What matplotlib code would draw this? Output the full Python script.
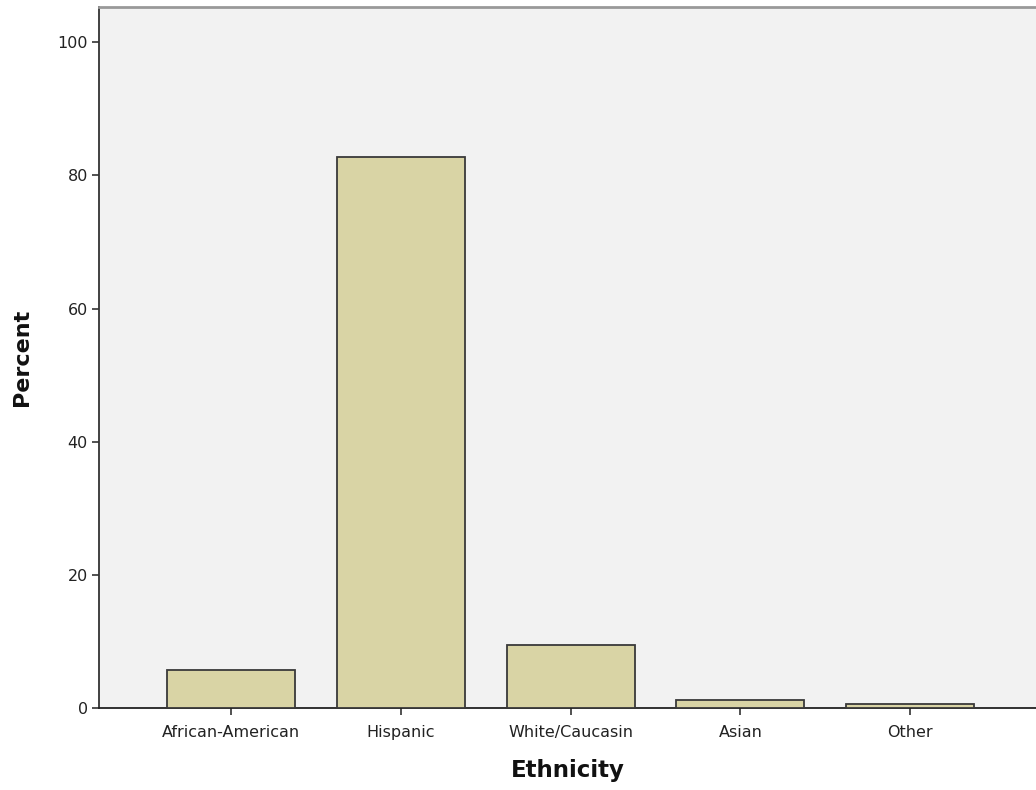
import matplotlib
matplotlib.use("Agg")
import matplotlib.pyplot as plt
import numpy as np

categories = ["African-American", "Hispanic", "White/Caucasin", "Asian", "Other"]
percent = [5.7, 82.7, 9.5, 1.2, 0.6]
y_ticks = [0, 20, 40, 60, 80, 100]


def make():
    fig = plt.figure(figsize=(10.36, 7.9), dpi=100)
    ax = fig.add_axes([0.0956, 0.1038, 0.9044, 0.8874])
    ax.set_facecolor("#f2f2f2")

    x = np.arange(len(categories))
    ax.bar(x, percent, width=0.753, color="#d9d4a5", edgecolor="#3a3a3a",
           linewidth=1.3, zorder=3)

    ax.set_xlim(-0.776, 4.74)
    ax.set_ylim(0, 105.3)
    ax.set_xticks(x)
    ax.set_xticklabels(categories, fontsize=11.5, color="#222222")
    ax.set_yticks(y_ticks)
    ax.set_yticklabels([str(t) for t in y_ticks], fontsize=11.5, color="#222222")
    ax.tick_params(direction="out", length=5, width=1.2, color="#333333")
    ax.tick_params(axis="x", pad=7)
    ax.tick_params(axis="y", pad=3)

    ax.spines["left"].set_color("#333333")
    ax.spines["left"].set_linewidth(1.3)
    ax.spines["bottom"].set_color("#222222")
    ax.spines["bottom"].set_linewidth(1.3)
    ax.spines["top"].set_color("#999999")
    ax.spines["top"].set_linewidth(2)
    ax.spines["right"].set_visible(False)

    ax.set_xlabel("Ethnicity", fontsize=16.5, fontweight="bold", color="#111111", labelpad=14)
    ax.set_ylabel("Percent", fontsize=16, fontweight="bold", color="#111111", labelpad=18)

    fig.savefig("out.png", dpi=100)


if __name__ == '__main__':
    make()
